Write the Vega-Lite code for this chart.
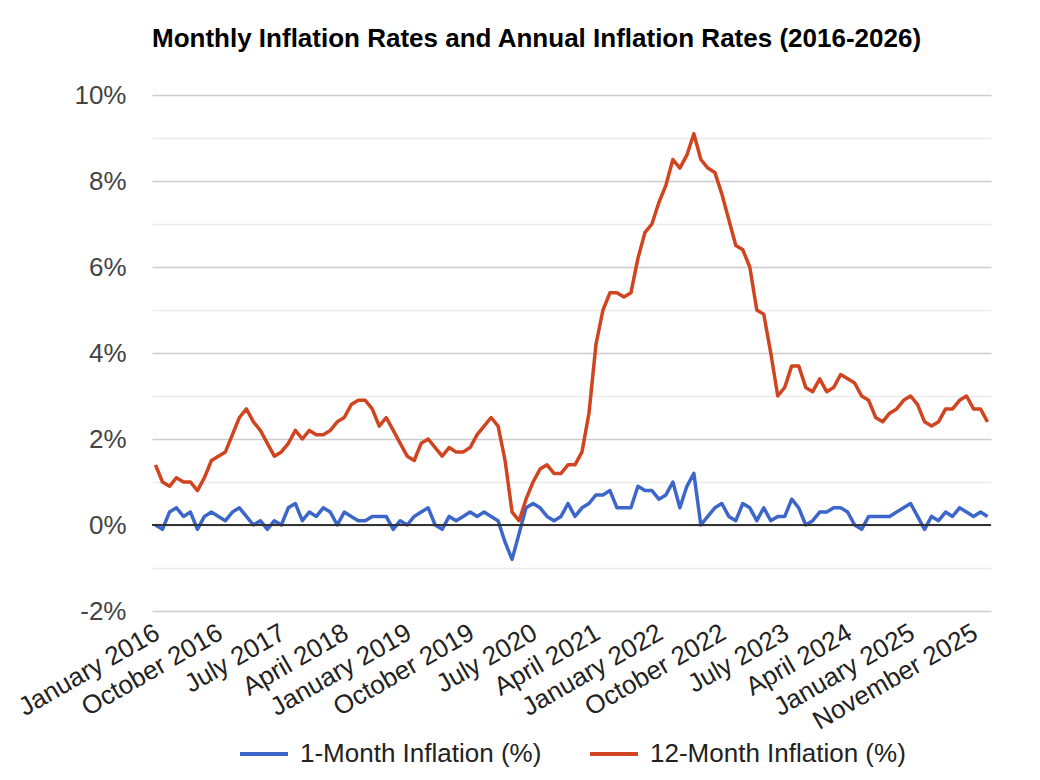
{
  "$schema": "https://vega.github.io/schema/vega-lite/v6.json",
  "width": 839,
  "height": 516,
  "autosize": {"type": "none"},
  "padding": {"left": 152, "top": 95, "right": 49, "bottom": 169},
  "background": "white",
  "config": {"view": {"stroke": null}, "font": "Liberation Sans"},
  "title": {
    "text": "Monthly Inflation Rates and Annual Inflation Rates (2016-2026)",
    "anchor": "start",
    "frame": "group",
    "font": "Liberation Sans",
    "fontSize": 26,
    "fontWeight": "bold",
    "color": "#000000",
    "offset": 30
  },
  "data": {
    "values": [
      {"month": "January 2016", "1-Month Inflation (%)": 0.0, "12-Month Inflation (%)": 1.4},
      {"month": "February 2016", "1-Month Inflation (%)": -0.1, "12-Month Inflation (%)": 1.0},
      {"month": "March 2016", "1-Month Inflation (%)": 0.3, "12-Month Inflation (%)": 0.9},
      {"month": "April 2016", "1-Month Inflation (%)": 0.4, "12-Month Inflation (%)": 1.1},
      {"month": "May 2016", "1-Month Inflation (%)": 0.2, "12-Month Inflation (%)": 1.0},
      {"month": "June 2016", "1-Month Inflation (%)": 0.3, "12-Month Inflation (%)": 1.0},
      {"month": "July 2016", "1-Month Inflation (%)": -0.1, "12-Month Inflation (%)": 0.8},
      {"month": "August 2016", "1-Month Inflation (%)": 0.2, "12-Month Inflation (%)": 1.1},
      {"month": "September 2016", "1-Month Inflation (%)": 0.3, "12-Month Inflation (%)": 1.5},
      {"month": "October 2016", "1-Month Inflation (%)": 0.2, "12-Month Inflation (%)": 1.6},
      {"month": "November 2016", "1-Month Inflation (%)": 0.1, "12-Month Inflation (%)": 1.7},
      {"month": "December 2016", "1-Month Inflation (%)": 0.3, "12-Month Inflation (%)": 2.1},
      {"month": "January 2017", "1-Month Inflation (%)": 0.4, "12-Month Inflation (%)": 2.5},
      {"month": "February 2017", "1-Month Inflation (%)": 0.2, "12-Month Inflation (%)": 2.7},
      {"month": "March 2017", "1-Month Inflation (%)": 0.0, "12-Month Inflation (%)": 2.4},
      {"month": "April 2017", "1-Month Inflation (%)": 0.1, "12-Month Inflation (%)": 2.2},
      {"month": "May 2017", "1-Month Inflation (%)": -0.1, "12-Month Inflation (%)": 1.9},
      {"month": "June 2017", "1-Month Inflation (%)": 0.1, "12-Month Inflation (%)": 1.6},
      {"month": "July 2017", "1-Month Inflation (%)": 0.0, "12-Month Inflation (%)": 1.7},
      {"month": "August 2017", "1-Month Inflation (%)": 0.4, "12-Month Inflation (%)": 1.9},
      {"month": "September 2017", "1-Month Inflation (%)": 0.5, "12-Month Inflation (%)": 2.2},
      {"month": "October 2017", "1-Month Inflation (%)": 0.1, "12-Month Inflation (%)": 2.0},
      {"month": "November 2017", "1-Month Inflation (%)": 0.3, "12-Month Inflation (%)": 2.2},
      {"month": "December 2017", "1-Month Inflation (%)": 0.2, "12-Month Inflation (%)": 2.1},
      {"month": "January 2018", "1-Month Inflation (%)": 0.4, "12-Month Inflation (%)": 2.1},
      {"month": "February 2018", "1-Month Inflation (%)": 0.3, "12-Month Inflation (%)": 2.2},
      {"month": "March 2018", "1-Month Inflation (%)": 0.0, "12-Month Inflation (%)": 2.4},
      {"month": "April 2018", "1-Month Inflation (%)": 0.3, "12-Month Inflation (%)": 2.5},
      {"month": "May 2018", "1-Month Inflation (%)": 0.2, "12-Month Inflation (%)": 2.8},
      {"month": "June 2018", "1-Month Inflation (%)": 0.1, "12-Month Inflation (%)": 2.9},
      {"month": "July 2018", "1-Month Inflation (%)": 0.1, "12-Month Inflation (%)": 2.9},
      {"month": "August 2018", "1-Month Inflation (%)": 0.2, "12-Month Inflation (%)": 2.7},
      {"month": "September 2018", "1-Month Inflation (%)": 0.2, "12-Month Inflation (%)": 2.3},
      {"month": "October 2018", "1-Month Inflation (%)": 0.2, "12-Month Inflation (%)": 2.5},
      {"month": "November 2018", "1-Month Inflation (%)": -0.1, "12-Month Inflation (%)": 2.2},
      {"month": "December 2018", "1-Month Inflation (%)": 0.1, "12-Month Inflation (%)": 1.9},
      {"month": "January 2019", "1-Month Inflation (%)": 0.0, "12-Month Inflation (%)": 1.6},
      {"month": "February 2019", "1-Month Inflation (%)": 0.2, "12-Month Inflation (%)": 1.5},
      {"month": "March 2019", "1-Month Inflation (%)": 0.3, "12-Month Inflation (%)": 1.9},
      {"month": "April 2019", "1-Month Inflation (%)": 0.4, "12-Month Inflation (%)": 2.0},
      {"month": "May 2019", "1-Month Inflation (%)": 0.0, "12-Month Inflation (%)": 1.8},
      {"month": "June 2019", "1-Month Inflation (%)": -0.1, "12-Month Inflation (%)": 1.6},
      {"month": "July 2019", "1-Month Inflation (%)": 0.2, "12-Month Inflation (%)": 1.8},
      {"month": "August 2019", "1-Month Inflation (%)": 0.1, "12-Month Inflation (%)": 1.7},
      {"month": "September 2019", "1-Month Inflation (%)": 0.2, "12-Month Inflation (%)": 1.7},
      {"month": "October 2019", "1-Month Inflation (%)": 0.3, "12-Month Inflation (%)": 1.8},
      {"month": "November 2019", "1-Month Inflation (%)": 0.2, "12-Month Inflation (%)": 2.1},
      {"month": "December 2019", "1-Month Inflation (%)": 0.3, "12-Month Inflation (%)": 2.3},
      {"month": "January 2020", "1-Month Inflation (%)": 0.2, "12-Month Inflation (%)": 2.5},
      {"month": "February 2020", "1-Month Inflation (%)": 0.1, "12-Month Inflation (%)": 2.3},
      {"month": "March 2020", "1-Month Inflation (%)": -0.4, "12-Month Inflation (%)": 1.5},
      {"month": "April 2020", "1-Month Inflation (%)": -0.8, "12-Month Inflation (%)": 0.3},
      {"month": "May 2020", "1-Month Inflation (%)": -0.2, "12-Month Inflation (%)": 0.1},
      {"month": "June 2020", "1-Month Inflation (%)": 0.4, "12-Month Inflation (%)": 0.6},
      {"month": "July 2020", "1-Month Inflation (%)": 0.5, "12-Month Inflation (%)": 1.0},
      {"month": "August 2020", "1-Month Inflation (%)": 0.4, "12-Month Inflation (%)": 1.3},
      {"month": "September 2020", "1-Month Inflation (%)": 0.2, "12-Month Inflation (%)": 1.4},
      {"month": "October 2020", "1-Month Inflation (%)": 0.1, "12-Month Inflation (%)": 1.2},
      {"month": "November 2020", "1-Month Inflation (%)": 0.2, "12-Month Inflation (%)": 1.2},
      {"month": "December 2020", "1-Month Inflation (%)": 0.5, "12-Month Inflation (%)": 1.4},
      {"month": "January 2021", "1-Month Inflation (%)": 0.2, "12-Month Inflation (%)": 1.4},
      {"month": "February 2021", "1-Month Inflation (%)": 0.4, "12-Month Inflation (%)": 1.7},
      {"month": "March 2021", "1-Month Inflation (%)": 0.5, "12-Month Inflation (%)": 2.6},
      {"month": "April 2021", "1-Month Inflation (%)": 0.7, "12-Month Inflation (%)": 4.2},
      {"month": "May 2021", "1-Month Inflation (%)": 0.7, "12-Month Inflation (%)": 5.0},
      {"month": "June 2021", "1-Month Inflation (%)": 0.8, "12-Month Inflation (%)": 5.4},
      {"month": "July 2021", "1-Month Inflation (%)": 0.4, "12-Month Inflation (%)": 5.4},
      {"month": "August 2021", "1-Month Inflation (%)": 0.4, "12-Month Inflation (%)": 5.3},
      {"month": "September 2021", "1-Month Inflation (%)": 0.4, "12-Month Inflation (%)": 5.4},
      {"month": "October 2021", "1-Month Inflation (%)": 0.9, "12-Month Inflation (%)": 6.2},
      {"month": "November 2021", "1-Month Inflation (%)": 0.8, "12-Month Inflation (%)": 6.8},
      {"month": "December 2021", "1-Month Inflation (%)": 0.8, "12-Month Inflation (%)": 7.0},
      {"month": "January 2022", "1-Month Inflation (%)": 0.6, "12-Month Inflation (%)": 7.5},
      {"month": "February 2022", "1-Month Inflation (%)": 0.7, "12-Month Inflation (%)": 7.9},
      {"month": "March 2022", "1-Month Inflation (%)": 1.0, "12-Month Inflation (%)": 8.5},
      {"month": "April 2022", "1-Month Inflation (%)": 0.4, "12-Month Inflation (%)": 8.3},
      {"month": "May 2022", "1-Month Inflation (%)": 0.9, "12-Month Inflation (%)": 8.6},
      {"month": "June 2022", "1-Month Inflation (%)": 1.2, "12-Month Inflation (%)": 9.1},
      {"month": "July 2022", "1-Month Inflation (%)": 0.0, "12-Month Inflation (%)": 8.5},
      {"month": "August 2022", "1-Month Inflation (%)": 0.2, "12-Month Inflation (%)": 8.3},
      {"month": "September 2022", "1-Month Inflation (%)": 0.4, "12-Month Inflation (%)": 8.2},
      {"month": "October 2022", "1-Month Inflation (%)": 0.5, "12-Month Inflation (%)": 7.7},
      {"month": "November 2022", "1-Month Inflation (%)": 0.2, "12-Month Inflation (%)": 7.1},
      {"month": "December 2022", "1-Month Inflation (%)": 0.1, "12-Month Inflation (%)": 6.5},
      {"month": "January 2023", "1-Month Inflation (%)": 0.5, "12-Month Inflation (%)": 6.4},
      {"month": "February 2023", "1-Month Inflation (%)": 0.4, "12-Month Inflation (%)": 6.0},
      {"month": "March 2023", "1-Month Inflation (%)": 0.1, "12-Month Inflation (%)": 5.0},
      {"month": "April 2023", "1-Month Inflation (%)": 0.4, "12-Month Inflation (%)": 4.9},
      {"month": "May 2023", "1-Month Inflation (%)": 0.1, "12-Month Inflation (%)": 4.0},
      {"month": "June 2023", "1-Month Inflation (%)": 0.2, "12-Month Inflation (%)": 3.0},
      {"month": "July 2023", "1-Month Inflation (%)": 0.2, "12-Month Inflation (%)": 3.2},
      {"month": "August 2023", "1-Month Inflation (%)": 0.6, "12-Month Inflation (%)": 3.7},
      {"month": "September 2023", "1-Month Inflation (%)": 0.4, "12-Month Inflation (%)": 3.7},
      {"month": "October 2023", "1-Month Inflation (%)": 0.0, "12-Month Inflation (%)": 3.2},
      {"month": "November 2023", "1-Month Inflation (%)": 0.1, "12-Month Inflation (%)": 3.1},
      {"month": "December 2023", "1-Month Inflation (%)": 0.3, "12-Month Inflation (%)": 3.4},
      {"month": "January 2024", "1-Month Inflation (%)": 0.3, "12-Month Inflation (%)": 3.1},
      {"month": "February 2024", "1-Month Inflation (%)": 0.4, "12-Month Inflation (%)": 3.2},
      {"month": "March 2024", "1-Month Inflation (%)": 0.4, "12-Month Inflation (%)": 3.5},
      {"month": "April 2024", "1-Month Inflation (%)": 0.3, "12-Month Inflation (%)": 3.4},
      {"month": "May 2024", "1-Month Inflation (%)": 0.0, "12-Month Inflation (%)": 3.3},
      {"month": "June 2024", "1-Month Inflation (%)": -0.1, "12-Month Inflation (%)": 3.0},
      {"month": "July 2024", "1-Month Inflation (%)": 0.2, "12-Month Inflation (%)": 2.9},
      {"month": "August 2024", "1-Month Inflation (%)": 0.2, "12-Month Inflation (%)": 2.5},
      {"month": "September 2024", "1-Month Inflation (%)": 0.2, "12-Month Inflation (%)": 2.4},
      {"month": "October 2024", "1-Month Inflation (%)": 0.2, "12-Month Inflation (%)": 2.6},
      {"month": "November 2024", "1-Month Inflation (%)": 0.3, "12-Month Inflation (%)": 2.7},
      {"month": "December 2024", "1-Month Inflation (%)": 0.4, "12-Month Inflation (%)": 2.9},
      {"month": "January 2025", "1-Month Inflation (%)": 0.5, "12-Month Inflation (%)": 3.0},
      {"month": "February 2025", "1-Month Inflation (%)": 0.2, "12-Month Inflation (%)": 2.8},
      {"month": "March 2025", "1-Month Inflation (%)": -0.1, "12-Month Inflation (%)": 2.4},
      {"month": "April 2025", "1-Month Inflation (%)": 0.2, "12-Month Inflation (%)": 2.3},
      {"month": "May 2025", "1-Month Inflation (%)": 0.1, "12-Month Inflation (%)": 2.4},
      {"month": "June 2025", "1-Month Inflation (%)": 0.3, "12-Month Inflation (%)": 2.7},
      {"month": "July 2025", "1-Month Inflation (%)": 0.2, "12-Month Inflation (%)": 2.7},
      {"month": "August 2025", "1-Month Inflation (%)": 0.4, "12-Month Inflation (%)": 2.9},
      {"month": "September 2025", "1-Month Inflation (%)": 0.3, "12-Month Inflation (%)": 3.0},
      {"month": "November 2025", "1-Month Inflation (%)": 0.2, "12-Month Inflation (%)": 2.7},
      {"month": "December 2025", "1-Month Inflation (%)": 0.3, "12-Month Inflation (%)": 2.7},
      {"month": "January 2026", "1-Month Inflation (%)": 0.2, "12-Month Inflation (%)": 2.4}
    ]
  },
  "transform": [
    {"fold": ["1-Month Inflation (%)", "12-Month Inflation (%)"], "as": ["series", "value"]}
  ],
  "layer": [
    {
      "mark": {"type": "line", "strokeWidth": 3.5, "strokeJoin": "round"},
      "encoding": {
        "x": {
          "field": "month",
          "type": "ordinal",
          "sort": null,
          "scale": {"type": "point", "padding": 0.5},
          "axis": {
            "title": null,
            "values": ["January 2016", "October 2016", "July 2017", "April 2018", "January 2019", "October 2019", "July 2020", "April 2021", "January 2022", "October 2022", "July 2023", "April 2024", "January 2025", "November 2025"],
            "labelAngle": -30,
            "labelAlign": "right",
            "labelBaseline": "top",
            "labelFont": "Liberation Sans",
            "labelFontSize": 26,
            "labelColor": "#222222",
            "labelPadding": 8,
            "labelOffset": -5,
            "labelLimit": 0,
            "labelOverlap": false,
            "ticks": false,
            "domain": false,
            "grid": false
          }
        },
        "y": {
          "field": "value",
          "type": "quantitative",
          "scale": {"domain": [-2, 10], "nice": false, "zero": false},
          "axis": {
            "title": null,
            "values": [-2, -1, 0, 1, 2, 3, 4, 5, 6, 7, 8, 9, 10],
            "labelExpr": "datum.value % 2 == 0 ? datum.value + '%' : ''",
            "labelFont": "Liberation Sans",
            "labelFontSize": 26,
            "labelColor": "#444444",
            "labelPadding": 26,
            "ticks": false,
            "domain": false,
            "grid": true,
            "gridWidth": 1.5,
            "gridColor": {"condition": {"test": "datum.value % 2 == 0", "value": "#cccccc"}, "value": "#ebebeb"}
          }
        },
        "color": {
          "field": "series",
          "type": "nominal",
          "scale": {"domain": ["1-Month Inflation (%)", "12-Month Inflation (%)"], "range": ["#3c66c9", "#d0451f"]},
          "legend": {
            "title": null,
            "orient": "none",
            "legendX": 86,
            "legendY": 633,
            "direction": "horizontal",
            "symbolType": "stroke",
            "symbolSize": 2304,
            "symbolStrokeWidth": 4,
            "labelFont": "Liberation Sans",
            "labelFontSize": 26,
            "labelColor": "#222222",
            "labelOffset": 10,
            "labelLimit": 0,
            "columnPadding": 40
          }
        }
      }
    },
    {
      "mark": {"type": "rule", "color": "#333333", "strokeWidth": 1.5},
      "encoding": {"y": {"datum": 0}}
    }
  ]
}
